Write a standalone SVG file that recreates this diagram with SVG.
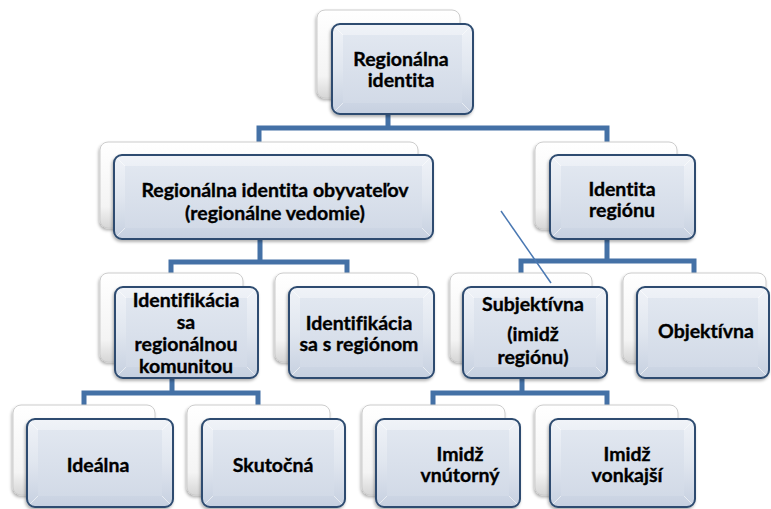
<svg xmlns="http://www.w3.org/2000/svg" width="771" height="509" viewBox="0 0 771 509">
<defs>
  <linearGradient id="gBack" x1="0" y1="0" x2="0" y2="1">
    <stop offset="0" stop-color="#ffffff"/>
    <stop offset="0.75" stop-color="#f4f4f4"/>
    <stop offset="1" stop-color="#d6d6d6"/>
  </linearGradient>
  <linearGradient id="gFront" x1="0" y1="0" x2="0" y2="1">
    <stop offset="0" stop-color="#f0f3f8"/>
    <stop offset="0.5" stop-color="#e0e6ef"/>
    <stop offset="1" stop-color="#c6d0e0"/>
  </linearGradient>
  <linearGradient id="gInner" x1="0" y1="0" x2="0" y2="1">
    <stop offset="0" stop-color="#e1e7f0"/>
    <stop offset="1" stop-color="#d2dae7"/>
  </linearGradient>
  <filter id="sh" x="-10%" y="-10%" width="125%" height="130%">
    <feDropShadow dx="-1" dy="2" stdDeviation="1.8" flood-color="#000" flood-opacity="0.3"/>
  </filter>
  <style>
    .back{fill:url(#gBack);stroke:#cccccc;stroke-width:1;filter:url(#sh)}
    .front{fill:url(#gFront);stroke:#2d4b70;stroke-width:2;filter:url(#sh)}
    .inner{fill:url(#gInner);stroke:none}
    .bev{stroke:#ffffff;stroke-opacity:0.55;stroke-width:1;fill:none}
    .con{fill:none;stroke:#4471a6;stroke-width:5;stroke-linejoin:miter}
    .stray{stroke:#4a78b2;stroke-width:1.5}
    text{font-family:Lato,"Liberation Sans","DejaVu Sans",sans-serif;font-weight:bold;font-size:19.5px;fill:#000;stroke:#000;stroke-width:0.35;text-anchor:middle;font-variant-ligatures:none}
  </style>
</defs>
<rect width="771" height="509" fill="#ffffff"/>

<g id="connectors">
  <path class="con" d="M388,113 V128 M259,143 V128 H607 V142"/>
  <path class="con" d="M260,238 V262 M171,274 V262 H347 V274"/>
  <path class="con" d="M607,238 V261 M521,274 V261 H694 V274"/>
  <path class="con" d="M172,378 V393 M84,405 V393 H258 V405"/>
  <path class="con" d="M522,378 V393 M433,405 V393 H607 V405"/>
</g>

<g id="n-root">
  <rect class="back" x="317" y="10" width="143" height="88" rx="8"/>
  <rect class="front" x="332" y="24" width="141" height="90" rx="8"/>
  <rect class="inner" x="343" y="35" width="119" height="68"/>
  <path class="bev" d="M335,27 L343,35 M470,27 L462,35 M335,111 L343,103 M470,111 L462,103"/>
  <text x="401" y="66">Regionálna</text>
  <text x="401" y="87">identita</text>
</g>

<g id="n-obyvatelov">
  <rect class="back" x="100" y="142" width="318" height="86" rx="8"/>
  <rect class="front" x="114" y="155" width="319" height="84" rx="8"/>
  <rect class="inner" x="125" y="166" width="297" height="62"/>
  <path class="bev" d="M117,158 L125,166 M430,158 L422,166 M117,236 L125,228 M430,236 L422,228"/>
  <text x="275" y="197">Regionálna identita obyvateľov</text>
  <text x="275" y="220">(regionálne vedomie)</text>
</g>

<g id="n-identita-regionu">
  <rect class="back" x="535" y="142" width="142" height="87" rx="8"/>
  <rect class="front" x="550" y="155" width="145" height="84" rx="8"/>
  <rect class="inner" x="561" y="166" width="123" height="62"/>
  <path class="bev" d="M553,158 L561,166 M692,158 L684,166 M553,236 L561,228 M692,236 L684,228"/>
  <text x="622" y="196">Identita</text>
  <text x="622" y="217">regiónu</text>
</g>

<g id="n-komunitou">
  <rect class="back" x="100" y="273" width="143" height="89" rx="8"/>
  <rect class="front" x="115" y="287" width="143" height="91" rx="8"/>
  <rect class="inner" x="126" y="298" width="121" height="69"/>
  <path class="bev" d="M118,290 L126,298 M255,290 L247,298 M118,375 L126,367 M255,375 L247,367"/>
  <text x="186" y="307">Identifikácia</text>
  <text x="186" y="329">sa</text>
  <text x="186" y="351">regionálnou</text>
  <text x="186" y="373">komunitou</text>
</g>

<g id="n-s-regionom">
  <rect class="back" x="275" y="273" width="143" height="89" rx="8"/>
  <rect class="front" x="289" y="287" width="145" height="91" rx="8"/>
  <rect class="inner" x="300" y="298" width="123" height="69"/>
  <path class="bev" d="M292,290 L300,298 M431,290 L423,298 M292,375 L300,367 M431,375 L423,367"/>
  <text x="359" y="330">Identifikácia</text>
  <text x="359" y="351">sa s regiónom</text>
</g>

<g id="n-subjektivna">
  <rect class="back" x="450" y="273" width="142" height="89" rx="8"/>
  <rect class="front" x="463" y="287" width="144" height="91" rx="8"/>
  <rect class="inner" x="474" y="298" width="122" height="69"/>
  <path class="bev" d="M466,290 L474,298 M604,290 L596,298 M466,375 L474,367 M604,375 L596,367"/>
  <text x="533" y="311">Subjektívna</text>
  <text x="533" y="341">(imidž</text>
  <text x="533" y="364">regiónu)</text>
</g>

<g id="n-objektivna">
  <rect class="back" x="623" y="273" width="143" height="89" rx="8"/>
  <rect class="front" x="637" y="287" width="132" height="91" rx="8"/>
  <rect class="inner" x="648" y="298" width="110" height="69"/>
  <path class="bev" d="M640,290 L648,298 M766,290 L758,298 M640,375 L648,367 M766,375 L758,367"/>
  <text x="706" y="338">Objektívna</text>
</g>

<g id="n-idealna">
  <rect class="back" x="13" y="405" width="142" height="90" rx="8"/>
  <rect class="front" x="27" y="419" width="146" height="88" rx="8"/>
  <rect class="inner" x="38" y="430" width="124" height="66"/>
  <path class="bev" d="M30,422 L38,430 M170,422 L162,430 M30,504 L38,496 M170,504 L162,496"/>
  <text x="98" y="472">Ideálna</text>
</g>

<g id="n-skutocna">
  <rect class="back" x="187" y="405" width="143" height="90" rx="8"/>
  <rect class="front" x="202" y="419" width="143" height="88" rx="8"/>
  <rect class="inner" x="213" y="430" width="121" height="66"/>
  <path class="bev" d="M205,422 L213,430 M342,422 L334,430 M205,504 L213,496 M342,504 L334,496"/>
  <text x="273" y="472">Skutočná</text>
</g>

<g id="n-vnutorny">
  <rect class="back" x="362" y="405" width="143" height="90" rx="8"/>
  <rect class="front" x="376" y="419" width="144" height="88" rx="8"/>
  <rect class="inner" x="387" y="430" width="122" height="66"/>
  <path class="bev" d="M379,422 L387,430 M517,422 L509,430 M379,504 L387,496 M517,504 L509,496"/>
  <text x="460" y="461">Imidž</text>
  <text x="460" y="482">vnútorný</text>
</g>

<g id="n-vonkajsi">
  <rect class="back" x="535" y="405" width="143" height="90" rx="8"/>
  <rect class="front" x="550" y="419" width="145" height="88" rx="8"/>
  <rect class="inner" x="561" y="430" width="123" height="66"/>
  <path class="bev" d="M553,422 L561,430 M692,422 L684,430 M553,504 L561,496 M692,504 L684,496"/>
  <text x="627" y="461">Imidž</text>
  <text x="627" y="482">vonkajší</text>
</g>

<line class="stray" x1="501" y1="211" x2="551" y2="283"/>
</svg>
